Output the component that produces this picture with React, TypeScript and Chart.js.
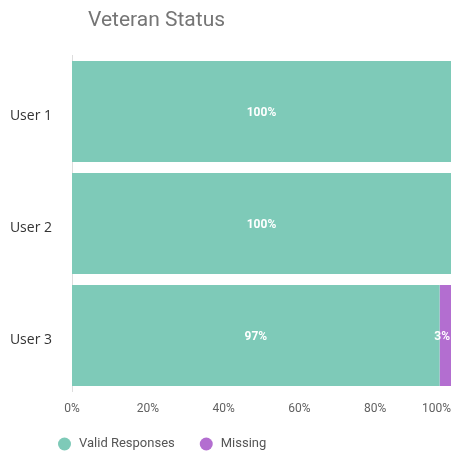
import React, { useEffect, useRef } from 'react';
import { Chart, registerables } from 'chart.js';

Chart.register(...registerables);

const TITLE = 'Veteran Status';
const categories = ['User 1', 'User 2', 'User 3'];
const validResponses = [100, 100, 97];
const missing = [0, 0, 3];
const seriesNames = ['Valid Responses', 'Missing'];
const seriesColors = ['#7ecab8', '#b36ed0'];
const xTickValues = [0, 20, 40, 60, 80, 100];
const xMax = 100;

const barLabelPlugin = {
  id: 'barLabels',
  afterDatasetsDraw(chart: any) {
    const ctx = chart.ctx;
    const area = chart.chartArea;
    ctx.save();
    ctx.font = 'bold 12px Roboto';
    ctx.fillStyle = '#ffffff';
    ctx.textAlign = 'center';
    ctx.textBaseline = 'middle';
    chart.data.datasets.forEach((ds: any, di: number) => {
      const meta = chart.getDatasetMeta(di);
      meta.data.forEach((bar: any, i: number) => {
        const v = ds.data[i];
        if (!v) return;
        const text = v + '%';
        const w = ctx.measureText(text).width;
        let x = (bar.x + bar.base) / 2;
        if (x + w / 2 > area.right - 1) x = area.right - 1 - w / 2;
        ctx.fillText(text, x, bar.y + 1.5);
      });
    });
    ctx.restore();
  },
};

const layoutShiftPlugin = {
  id: 'layoutShift',
  afterLayout(chart: any) {
    const t = chart.titleBlock;
    if (t) {
      t.left += 80;
      t.right += 80;
    }
  },
};

// x-axis tick labels, placed with the x scale; the last one is kept inside the canvas
const xTickLabelPlugin = {
  id: 'xTickLabels',
  afterDraw(chart: any) {
    const ctx = chart.ctx;
    const sx = chart.scales.x;
    const y = chart.chartArea.bottom + 17.5;
    ctx.save();
    ctx.font = '12px Roboto';
    ctx.fillStyle = '#616161';
    ctx.textBaseline = 'middle';
    xTickValues.forEach((v) => {
      const text = v + '%';
      const px = sx.getPixelForValue(v);
      const w = ctx.measureText(text).width;
      ctx.textAlign = 'center';
      if (px + w / 2 > chart.width - 2) ctx.textAlign = 'right';
      ctx.fillText(text, px, y);
    });
    ctx.restore();
  },
};

const customLegendPlugin = {
  id: 'customLegend',
  afterDraw(chart: any) {
    const ctx = chart.ctx;
    ctx.save();
    ctx.font = '13px Roboto';
    ctx.textBaseline = 'middle';
    ctx.textAlign = 'left';
    let x = 50;
    const y = 436;
    chart.data.datasets.forEach((ds: any) => {
      ctx.fillStyle = ds.backgroundColor;
      ctx.beginPath();
      ctx.arc(x + 6.5, y, 6.5, 0, Math.PI * 2);
      ctx.fill();
      ctx.fillStyle = '#555555';
      ctx.fillText(ds.label, x + 21, y);
      x += 21 + ctx.measureText(ds.label).width + 25;
    });
    ctx.restore();
  },
};

export default function App() {
  const ref = useRef<HTMLCanvasElement>(null);
  useEffect(() => {
    document.body.style.overflow = 'hidden';
    const chart = new Chart(ref.current as HTMLCanvasElement, {
      type: 'bar',
      data: {
        labels: categories,
        datasets: [
          {
            label: seriesNames[0],
            data: validResponses,
            backgroundColor: seriesColors[0],
            borderWidth: 0,
            categoryPercentage: 0.9,
            barPercentage: 1,
          },
          {
            label: seriesNames[1],
            data: missing,
            backgroundColor: seriesColors[1],
            borderWidth: 0,
            categoryPercentage: 0.9,
            barPercentage: 1,
          },
        ],
      },
      options: {
        indexAxis: 'y',
        responsive: false,
        animation: false,
        events: [],
        layout: {
          padding: { left: 0, right: 3, top: 0, bottom: 61.5 },
        },
        plugins: {
          legend: { display: false },
          tooltip: { enabled: false },
          title: {
            display: true,
            text: TITLE,
            align: 'start',
            color: '#757575',
            font: { family: 'Roboto', size: 21, weight: 'normal' },
            padding: { top: 0, bottom: 22.3 },
          },
        },
        scales: {
          x: {
            display: false,
            stacked: true,
            min: 0,
            max: xMax,
          },
          y: {
            stacked: true,
            grid: { display: false, drawTicks: false },
            border: { display: true, color: '#dddddd', width: 1 },
            ticks: {
              padding: 20,
              labelOffset: 5,
              font: { family: 'Open Sans', size: 14 },
              color: '#333333',
            },
            afterFit: (s: any) => {
              s.width = 64;
            },
          },
        },
      },
      plugins: [barLabelPlugin, layoutShiftPlugin, xTickLabelPlugin, customLegendPlugin],
    } as any);
    return () => chart.destroy();
  }, []);
  return (
    <div style={{ width: 446, height: 445 }}>
      <canvas ref={ref} width={446} height={445} style={{ display: 'block' }} />
    </div>
  );
}
